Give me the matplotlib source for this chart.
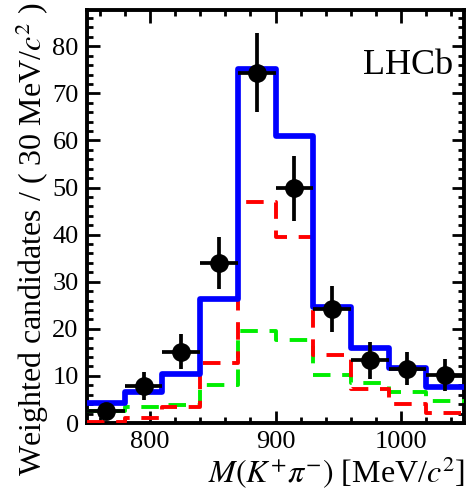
import numpy as np
import matplotlib
matplotlib.use("Agg")
import matplotlib.pyplot as plt
from matplotlib.ticker import MultipleLocator

plt.rcParams['font.family'] = ['Liberation Serif', 'DejaVu Serif']
plt.rcParams['mathtext.fontset'] = 'stix'

# Data
bin_edges = [750, 780, 810, 840, 870, 900, 930, 960, 990, 1020, 1050]
total_fit = [4.3, 6.6, 10.4, 26.3, 75.2, 61.0, 24.6, 16.0, 11.7, 7.6]
red_comp = [0.3, 1.1, 3.4, 12.8, 46.9, 39.5, 14.4, 7.2, 4.1, 2.2]
green_comp = [2.6, 3.3, 3.9, 8.0, 19.6, 17.7, 10.1, 8.6, 6.6, 4.7]
zero_comp = [0.0, 0.0, 0.0, 0.0, 0.0, 0.0, 0.0, 0.0, 0.0, 0.0]
data_x = [765, 795, 825, 855, 885, 915, 945, 975, 1005, 1035]
data_y = [2.5, 7.9, 15.1, 34.0, 74.4, 49.8, 24.2, 13.3, 11.5, 10.2]
data_err = [1.6, 3.0, 3.7, 5.6, 8.4, 6.9, 4.9, 3.9, 3.5, 3.3]

fig = plt.figure(figsize=(4.68, 4.97), dpi=100)
ax = fig.add_axes([87/468, 1-423/497, (464-87)/468, (423-10)/497])

def step_vals(v):
    return list(v) + [v[-1]]

ax.step(bin_edges, step_vals(zero_comp), where='post', color='#888888',
        lw=2.0, ls=(0, (1, 1.2)), zorder=2)
ax.step(bin_edges, step_vals(green_comp), where='post', color='#00ee00',
        lw=2.8, ls=(0, (4.5, 3.0)), zorder=3)
ax.step(bin_edges, step_vals(red_comp), where='post', color='#ff0000',
        lw=2.8, ls=(0, (4.5, 3.0)), zorder=3)
ax.step(bin_edges, step_vals(total_fit), where='post', color='#0000ff',
        lw=4.1, zorder=4)

ax.errorbar(data_x, data_y, yerr=data_err, xerr=15, fmt='o', color='black',
            ms=12.5, elinewidth=2.7, capsize=0, zorder=5)

ax.set_xlim(750, 1050)
ax.set_ylim(0, 87.7)

ax.xaxis.set_major_locator(MultipleLocator(100))
ax.xaxis.set_minor_locator(MultipleLocator(20))
ax.yaxis.set_major_locator(MultipleLocator(10))
ax.yaxis.set_minor_locator(MultipleLocator(2))

ax.tick_params(which='both', direction='in', top=True, right=True, width=2.0,
               labelsize=19, pad=6)
ax.tick_params(which='major', length=9)
ax.tick_params(which='minor', length=4.5)
for s in ax.spines.values():
    s.set_linewidth(2.8)

ax.set_ylabel(r'Weighted candidates / ( 30 MeV/$c^2$ )', fontsize=23)
ax.yaxis.set_label_coords((32-87)/377, (423-2)/413)
ax.yaxis.label.set_horizontalalignment('right')
ax.yaxis.label.set_verticalalignment('center')

ax.set_xlabel(r'$M(K^{+}\pi^{-})$ [MeV/$c^2$]', fontsize=23)
ax.xaxis.set_label_coords((465-87)/377, -(473-423)/413)
ax.xaxis.label.set_horizontalalignment('right')
ax.xaxis.label.set_verticalalignment('center')

ax.text((453-87)/377, (423-65)/413, 'LHCb', transform=ax.transAxes,
        ha='right', va='center', fontsize=26)

fig.savefig('out.png', dpi=100)
